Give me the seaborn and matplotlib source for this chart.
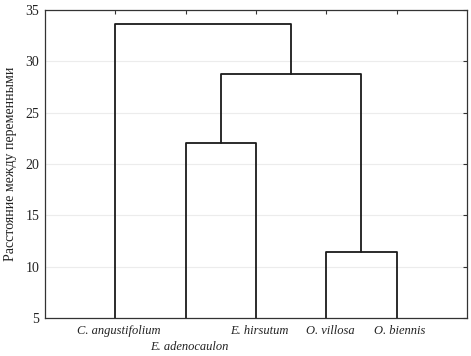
import numpy as np
import pandas as pd
import matplotlib
matplotlib.use("Agg")
import matplotlib.pyplot as plt
import seaborn as sns

# Листья дендрограммы (в порядке на оси)
leaves = ["C. angustifolium", "E. adenocaulon", "E. hirsutum", "O. villosa", "O. biennis"]
# Объединения: (левый узел, правый узел, высота); узлы 0-4 листья, 5+ кластеры
merge_left = [1, 3, 5, 0]
merge_right = [2, 4, 6, 7]
merge_height = [22.0, 11.4, 28.8, 33.6]

# позиции узлов
node_x = {i: i + 1 for i in range(len(leaves))}
node_h = {i: 5.0 for i in range(len(leaves))}
rows = []
for k, (a, b, h) in enumerate(zip(merge_left, merge_right, merge_height)):
    xa, xb = node_x[a], node_x[b]
    for x, y in [(xa, node_h[a]), (xa, h), (xb, h), (xb, node_h[b])]:
        rows.append({"link": k, "x": x, "y": y})
    nid = len(leaves) + k
    node_x[nid] = (xa + xb) / 2
    node_h[nid] = h
df = pd.DataFrame(rows)

sns.set_style("white")
plt.rcParams['font.family'] = ['Liberation Serif', 'DejaVu Serif']

fig = plt.figure(figsize=(4.71, 3.56), dpi=100)
ax = fig.add_axes([0.0955, 0.107, 0.8960, 0.865])

sns.lineplot(data=df, x="x", y="y", units="link", estimator=None, sort=False,
             color="#1a1a1a", linewidth=1.3, ax=ax, legend=False)

ax.set_xlim(0, len(leaves) + 1)
ax.set_ylim(5, 35)
ax.set_yticks(np.arange(5, 36, 5))
ax.yaxis.grid(True, color="#ececec", linewidth=0.8)
ax.set_axisbelow(True)
ax.set_xticks(range(1, len(leaves) + 1))
ax.set_xticklabels([])
# подписи листьев: вторая сдвинута вниз, чтобы не налезала
for i, name in enumerate(leaves):
    dy = -0.075 if i == 1 else -0.022
    ax.text(i + 1 + 0.05, dy, name, transform=ax.get_xaxis_transform(),
            ha="center", va="top", fontsize=9, style="italic", color="#222222")
ax.tick_params(axis="both", direction="in", length=3, width=0.8,
               top=True, right=True, colors="#333333", labelsize=10)
ax.tick_params(axis="y", labelcolor="#222222", pad=4)
ax.set_xlabel("")
ax.set_ylabel("Расстояние между переменными", fontsize=10, color="#222222", labelpad=6)
for s in ax.spines.values():
    s.set_color("#333333")
    s.set_linewidth(0.9)

fig.savefig("out.png", dpi=100)
